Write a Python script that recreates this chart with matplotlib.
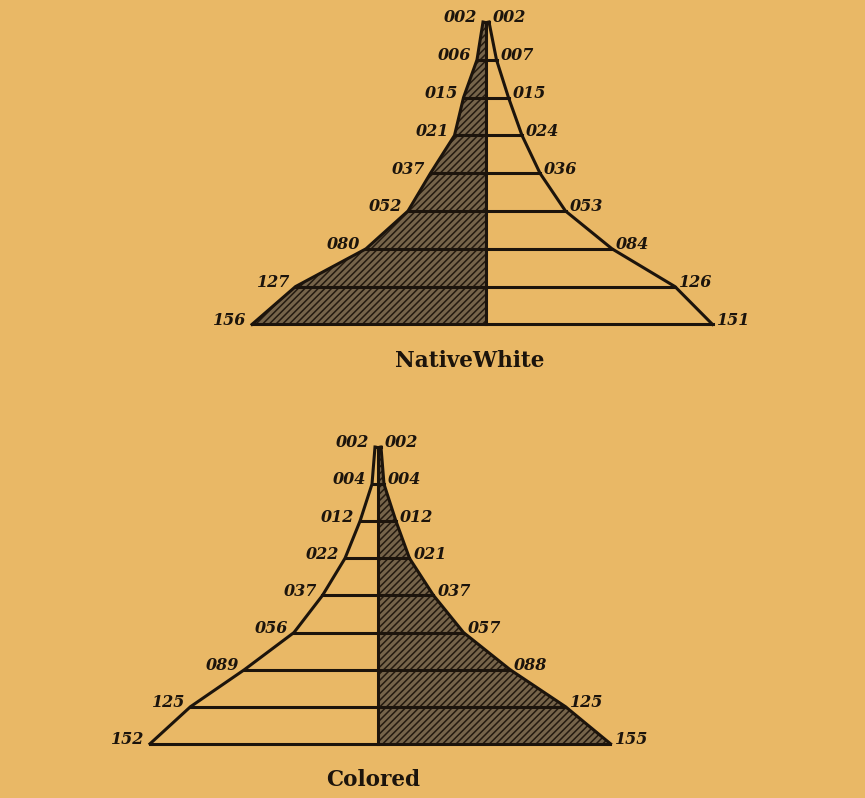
import matplotlib
matplotlib.use("Agg")
import matplotlib.pyplot as plt
import numpy as np

# ---- data ----
native_white_left = [2, 6, 15, 21, 37, 52, 80, 127, 156]
native_white_right = [2, 7, 15, 24, 36, 53, 84, 126, 151]
colored_left = [2, 4, 12, 22, 37, 56, 89, 125, 152]
colored_right = [2, 4, 12, 21, 37, 57, 88, 125, 155]
titles = ["NativeWhite", "Colored"]

# ---- style ----
W, H = 865, 798
BG = "#E9B866"
INK = "#1c140c"
FILL = "#76644a"
SCALE = 1.5  # px per unit

plt.rcParams["hatch.linewidth"] = 1.1
fig = plt.figure(figsize=(W / 100, H / 100), dpi=100)
fig.patch.set_facecolor(BG)

label_font = dict(family="DejaVu Serif", style="italic", weight="heavy", size=11.5, color=INK)


def make_axes(top_px, bottom_px, center_x, level0_y, spacing):
    ax = fig.add_axes([0, 1 - bottom_px / H, 1, (bottom_px - top_px) / H])
    ax.set_xlim(-center_x / SCALE, (W - center_x) / SCALE)
    ax.set_ylim((bottom_px - level0_y) / spacing, (top_px - level0_y) / spacing)
    ax.axis("off")
    ax.patch.set_alpha(0)
    return ax


def pyramid(ax, left, right, shade_left):
    left = np.asarray(left, float)
    right = np.asarray(right, float)
    lv = np.arange(len(left))
    n = len(lv) - 1
    # shaded half
    if shade_left:
        xs = np.concatenate([[0], -left, [0]])
    else:
        xs = np.concatenate([[0], right, [0]])
    ys = np.concatenate([[0], lv, [n]])
    ax.fill(xs, ys, facecolor=FILL, edgecolor="#241a10", linewidth=0, hatch="/////", zorder=1)
    # outline
    ax.plot(-left, lv, color=INK, lw=2.2, zorder=3, solid_joinstyle="round")
    ax.plot(right, lv, color=INK, lw=2.2, zorder=3, solid_joinstyle="round")
    # horizontal lines
    for i in lv:
        ax.plot([-left[i], right[i]], [i, i], color=INK, lw=2.2, zorder=3)
    # centre line
    ax.plot([0, 0], [0, n], color=INK, lw=2.2, zorder=3)
    # labels
    for i in lv:
        ax.annotate(f"{int(left[i]):03d}", (-left[i], i), xytext=(-4, 3),
                    textcoords="offset points", ha="right", va="center", **label_font)
        ax.annotate(f"{int(right[i]):03d}", (right[i], i), xytext=(3, 3),
                    textcoords="offset points", ha="left", va="center", **label_font)


ax1 = make_axes(0, 400, 486, 22, 37.8)
pyramid(ax1, native_white_left, native_white_right, shade_left=True)

ax2 = make_axes(400, 798, 378, 447, 37.1)
pyramid(ax2, colored_left, colored_right, shade_left=False)

title_font = dict(family="DejaVu Serif", weight="bold", size=15.5, color=INK,
                  ha="center", va="center")
fig.text(470 / W, 1 - 361 / H, titles[0], **title_font)
fig.text(373 / W, 1 - 780 / H, titles[1], **title_font)

fig.savefig("out.png", dpi=100, facecolor=BG)
